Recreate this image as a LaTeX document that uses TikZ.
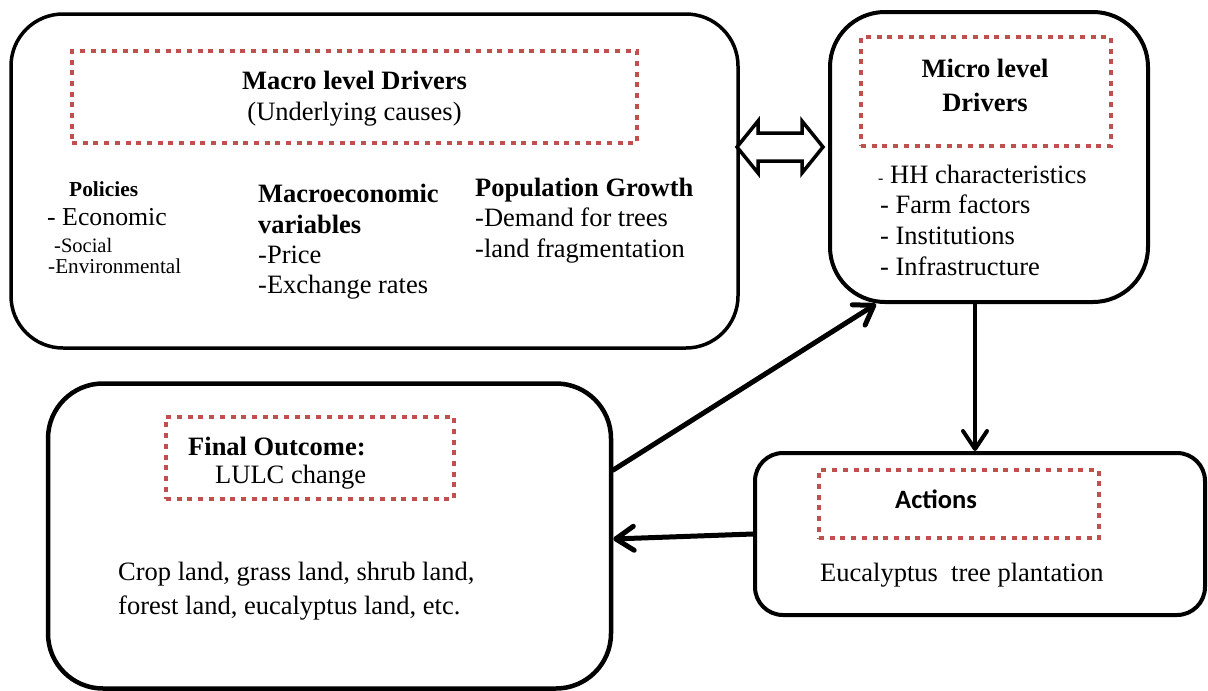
\documentclass[tikz,border=0pt]{standalone}
\usepackage{fontspec}
\setmainfont{Liberation Serif}
\newfontfamily\actfont{Carlito}
\usetikzlibrary{arrows.meta}
\definecolor{dotred}{RGB}{192,80,77}
\tikzset{
  x=1pt, y=-1pt,
  frame/.style={draw=black, line width=#1, inner sep=0pt},
  dotbox/.style={draw=dotred, line width=4.5pt, dash pattern=on 5pt off 5.7pt, inner sep=0pt},
  txt/.style={inner sep=0pt, font=\fontsize{26.5}{30}\selectfont},
  btxt/.style={inner sep=0pt, font=\fontsize{26.5}{30}\selectfont\bfseries},
  flow/.style={draw=black, line width=#1, line cap=round,
    -{Straight Barb[length=18pt, width=24pt, line cap=round, line join=round]}},
  dblarrow/.style={draw=black, fill=white, line width=3.5pt, line join=miter},
}
\begin{document}
\begin{tikzpicture}
\useasboundingbox (0,0) rectangle (1208,691);

% outer rounded frames
\node[frame=3.5pt, rounded corners=52pt, minimum width=727pt, minimum height=334pt] (macro) at (374.5,181) {};
\node[frame=4pt, rounded corners=55pt, minimum width=318pt, minimum height=290pt] (micro) at (989,157) {};
\node[frame=4.5pt, rounded corners=55pt, minimum width=563pt, minimum height=305pt] (final) at (329.5,536) {};
\node[frame=4pt, rounded corners=28pt, minimum width=450pt, minimum height=162pt] (actions) at (980,534) {};

% dotted title frames
\node[dotbox, minimum width=565pt, minimum height=92pt] (macroin) at (354.5,97) {};
\node[dotbox, minimum width=250pt, minimum height=109pt] (microin) at (986,91.5) {};
\node[dotbox, minimum width=288pt, minimum height=82pt] (finalin) at (310,458) {};
\node[dotbox, minimum width=280pt, minimum height=68pt] (actin) at (959,504) {};

% macro level drivers
\node[btxt, anchor=base] (macrot1) at (354.5,89) {Macro level Drivers};
\node[txt, anchor=base] (macrot2) at (354.5,120) {(Underlying causes)};

\node[inner sep=0pt, anchor=base west, font=\fontsize{21.4}{24}\selectfont\bfseries] (pol) at (69,196.5) {Policies};
\node[inner sep=0pt, anchor=base west, font=\fontsize{25.8}{30}\selectfont] (pol1) at (47,225) {- Economic};
\node[inner sep=0pt, anchor=base west, font=\fontsize{20.5}{24}\selectfont] (pol2) at (54,252) {-Social};
\node[inner sep=0pt, anchor=base west, font=\fontsize{21.2}{24}\selectfont] (pol3) at (48,273) {-Environmental};

\node[btxt, anchor=base west] (mac1) at (258,202) {Macroeconomic};
\node[btxt, anchor=base west] (mac2) at (258,233) {variables};
\node[txt, anchor=base west] (mac3) at (258,263.5) {-Price};
\node[txt, anchor=base west] (mac4) at (258,293) {-Exchange rates};

\node[btxt, anchor=base west] (pop1) at (475,196) {Population Growth};
\node[txt, anchor=base west] (pop2) at (475,226.5) {-Demand for trees};
\node[txt, anchor=base west] (pop3) at (475,257) {-land fragmentation};

% micro level drivers
\node[btxt, anchor=base] (microt1) at (985,77) {Micro level};
\node[btxt, anchor=base] (microt2) at (985,111) {Drivers};
\node[txt, anchor=base west] (mic1) at (878,183) {{\fontsize{16}{16}\selectfont -} HH characteristics};
\node[txt, anchor=base west] (mic2) at (880,213) {- Farm factors};
\node[txt, anchor=base west] (mic3) at (880,244) {- Institutions};
\node[txt, anchor=base west] (mic4) at (880,275) {- Infrastructure};

% final outcome
\node[btxt, anchor=base west] (fin1) at (188,455) {Final Outcome:};
\node[txt, anchor=base west] (fin2) at (215,483) {LULC change};
\node[txt, anchor=base west] (fin3) at (118,580) {Crop land, grass land, shrub land,};
\node[txt, anchor=base west] (fin4) at (118,614) {forest land, eucalyptus land, etc.};

% actions
\node[inner sep=0pt, anchor=base west, font=\fontsize{26.5}{30}\actfont\bfseries] (act1) at (895,508) {Actions};
\node[txt, anchor=base west] (act2) at (820,581) {Eucalyptus\ \ tree plantation};

% two-way link between macro and micro drivers
\coordinate (dbl) at (780,147);
\draw[dblarrow] (dbl) ++(-43,0) -- ++(21,-26) -- ++(0,12) -- ++(44,0) -- ++(0,-12)
  -- ++(21,26) -- ++(-21,26) -- ++(0,-12) -- ++(-44,0) -- ++(0,12) -- cycle;

% causal connectors
\draw[flow=5pt] ([yshift=66pt]final.east) -- ([xshift=48pt]micro.south west);
\draw[flow=4pt] ([xshift=-14pt]micro.south) -- ([xshift=-5pt]actions.north);
\draw[flow=5pt] (actions.west) -- ([yshift=-3pt]final.east);
\end{tikzpicture}
\end{document}
